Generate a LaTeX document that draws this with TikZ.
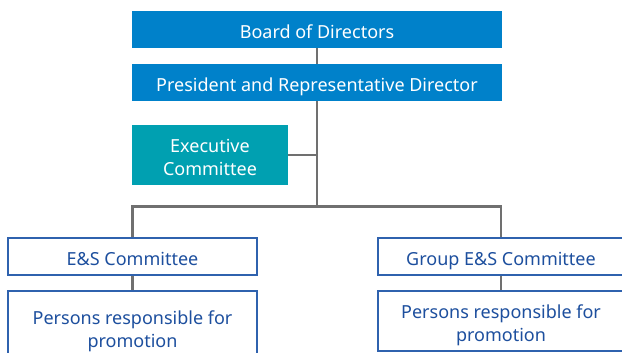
\documentclass[tikz,border=0pt]{standalone}
\usepackage{fontspec}
\setmainfont{Noto Sans}
\definecolor{boardblue}{HTML}{0081CA}
\definecolor{execteal}{HTML}{00A0B1}
\definecolor{linegray}{HTML}{707070}
\definecolor{frameblue}{HTML}{2F62AE}
\definecolor{textblue}{HTML}{1D4F9E}
\tikzset{>=latex}
\newcommand{\boxlines}[1]{\raisebox{-4.5pt}[\height][\depth]{\begin{tabular}{@{}c@{}}#1\end{tabular}}}
\tikzset{
  filledbox/.style={fill=boardblue, text=white, inner sep=0pt,
    font=\fontsize{18}{23.5}\selectfont},
  framebox/.style={draw=frameblue, line width=1.3pt, fill=white, text=textblue,
    inner sep=0pt, font=\fontsize{18}{23.5}\selectfont},
  link/.style={draw=linegray, line width=2.8pt}
}

\begin{document}
\begin{tikzpicture}[x=1pt, y=-1pt]
  \useasboundingbox (0,0) rectangle (622,353);
  \clip (0,0) rectangle (622,353);
  % top of the chart
  \node[filledbox, minimum width=370pt, minimum height=37pt] (board) at (317,29.5) {\boxlines{Board of Directors}};
  \node[filledbox, minimum width=370pt, minimum height=37pt] (president) at (317,82.5) {\boxlines{President and Representative Director}};
  \node[filledbox, fill=execteal, minimum width=156pt, minimum height=60pt] (exec) at (210,155) {\boxlines{Executive\\Committee}};
  \coordinate (split) at (317,206.5);
  % the two branches
  \node[framebox, minimum width=249pt, minimum height=37pt] (esc) at (132.5,256.5) {\boxlines{E\&S Committee}};
  \node[framebox, minimum width=249pt, minimum height=72pt] (perslft) at (132.5,327) {\boxlines{Persons responsible for\\promotion}};
  \node[framebox, minimum width=246pt, minimum height=37pt] (groupesc) at (501,256.5) {\boxlines{Group E\&S Committee}};
  \node[framebox, minimum width=246pt, minimum height=60pt] (persrgt) at (501,321) {\boxlines{Persons responsible for\\promotion}};
  \draw[link] (board) -- (president);
  \draw[link] (president.south) -- (split);
  \draw[link] (exec.east) -- (exec.east -| split);
  \draw[link] (esc.north) |- (split) -| (groupesc.north);
  \draw[link] (esc) -- (perslft);
  \draw[link] (groupesc) -- (persrgt);
\end{tikzpicture}
\end{document}
